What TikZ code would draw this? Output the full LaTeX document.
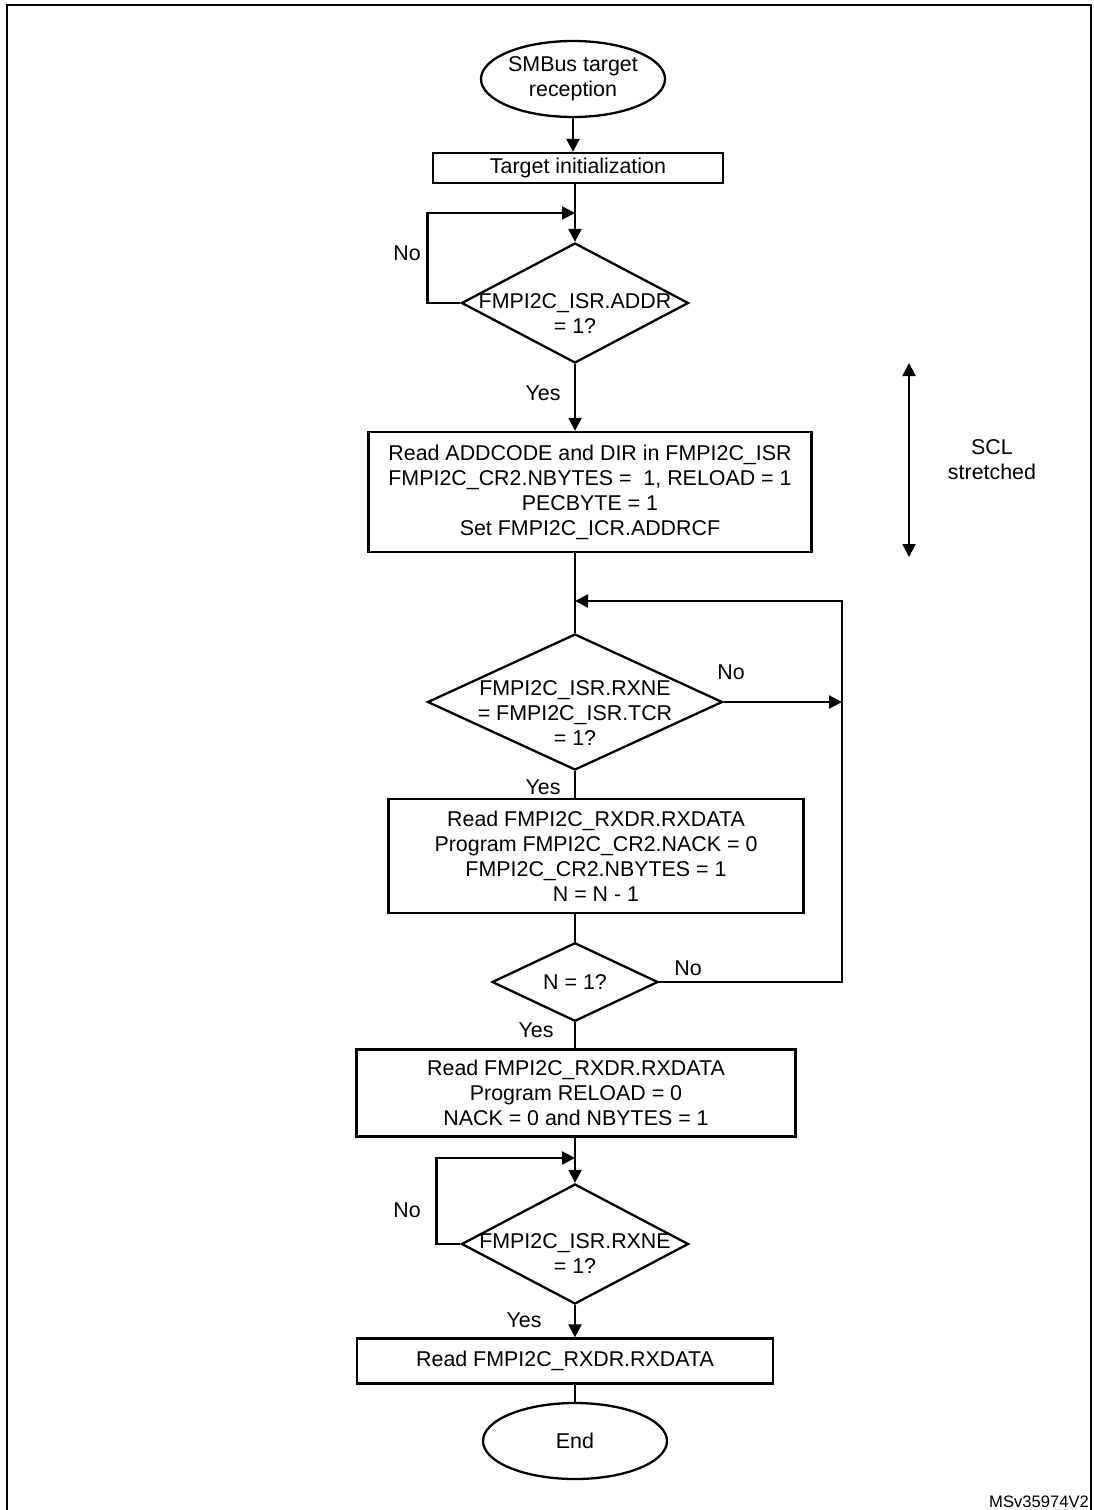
\documentclass[tikz,border=0pt]{standalone}
\usepackage{fontspec}
\setmainfont{Liberation Sans}
\usetikzlibrary{shapes.geometric,arrows.meta}

\begin{document}
\begin{tikzpicture}[x=0.5pt, y=-0.5pt, line width=1.15pt, >={Triangle[length=6.5pt,width=6.5pt]}, font=\fontsize{10.7}{12.5}\selectfont]
\tikzstyle{proc}=[draw, rectangle, align=center, inner sep=1pt]
\tikzstyle{term}=[draw, ellipse, align=center, inner sep=0pt, minimum width=92pt, minimum height=38pt]
\tikzstyle{test}=[draw, diamond, inner sep=0pt]
\tikzstyle{tag}=[inner sep=0pt]
\useasboundingbox (0,0) rectangle (1093,1510);
\draw (7,1510) -- (7,5) -- (1091,5) -- (1091,1510);

\node[term]    (S)    at (573,79)   {SMBus target\\reception};
\node[proc, minimum width=145pt, minimum height=15pt]    (Init) at (578,168)  {Target initialization};
\node[test, minimum width=113.5pt, minimum height=60pt, label={[align=center, yshift=-5.5pt]center:FMPI2C\_ISR.ADDR\\= 1?}]    (Addr) at (575,303)  {};
\node[proc, minimum width=221.5pt, minimum height=60pt]  (RdA)  at (590,492)  {Read ADDCODE and DIR in FMPI2C\_ISR\\FMPI2C\_CR2.NBYTES =\ \ 1, RELOAD = 1\\PECBYTE = 1\\Set FMPI2C\_ICR.ADDRCF};
\node[test, minimum width=147.5pt, minimum height=68pt, label={[align=center, yshift=-5.5pt]center:FMPI2C\_ISR.RXNE\\= FMPI2C\_ISR.TCR\\= 1?}]    (Rxne) at (575,702)  {};
\node[proc, minimum width=207.5pt, minimum height=57pt]  (RdN)  at (596,856)  {Read FMPI2C\_RXDR.RXDATA\\Program FMPI2C\_CR2.NACK = 0\\FMPI2C\_CR2.NBYTES = 1\\N = N - 1};
\node[test, minimum width=83pt, minimum height=35pt]     (Cnt)  at (575,982)  {N = 1?};
\node[proc, minimum width=219.5pt, minimum height=43.5pt] (RdL) at (576,1093) {Read FMPI2C\_RXDR.RXDATA\\Program RELOAD = 0\\NACK = 0 and NBYTES = 1};
\node[test, minimum width=113.5pt, minimum height=60pt, label={[align=center, yshift=-5pt]center:FMPI2C\_ISR.RXNE\\= 1?}]    (Wait) at (575,1244) {};
\node[proc, minimum width=208pt, minimum height=22.5pt]  (RdE)  at (565,1361) {Read FMPI2C\_RXDR.RXDATA};
\node[term]    (E)    at (575,1441) {End};

\coordinate (J1) at (575,213);
\coordinate (J2) at (575,601);
\coordinate (J3) at (575,1158);
\coordinate (Bus) at (842,601);
\coordinate (SclT) at (909,363);
\coordinate (SclB) at (909,557);

\draw[->] (S) -- (Init.north -| S);
\draw[->] (Init.south -| Addr) -- (Addr.north);
\draw[->] (Addr.west) -- ++(-33,0) |- (J1);
\draw[->] (Addr.south) -- (Addr.south |- RdA.north);
\draw (RdA.south -| Rxne) -- (Rxne.north);
\draw[->] (Rxne.east) -- (Rxne.east -| Bus);
\draw (Rxne.south) -- (Rxne.south |- RdN.north);
\draw (RdN.south -| Cnt) -- (Cnt.north);
\draw[->] (Cnt.east) -| (Bus) -- (J2);
\draw (Cnt.south) -- (Cnt.south |- RdL.north);
\draw[->] (RdL.south -| Wait) -- (Wait.north);
\draw[->] (Wait.west) -- ++(-24,0) |- (J3);
\draw[->] (Wait.south) -- (Wait.south |- RdE.north);
\draw (RdE.south -| E) -- (E.north);
\draw[<->] (SclT) -- (SclB);

\node[tag] (No1)  at (407,253)  {No};
\node[tag] (Yes1) at (543,393)  {Yes};
\node[tag] (No2)  at (731,672)  {No};
\node[tag] (Yes2) at (543,787)  {Yes};
\node[tag] (No3)  at (688,968)  {No};
\node[tag] (Yes3) at (536,1030) {Yes};
\node[tag] (No4)  at (407,1210) {No};
\node[tag] (Yes4) at (524,1320) {Yes};
\node[tag, align=center] (Scl) at (992,460) {SCL\\stretched};
\node[anchor=base east, inner sep=0pt, font=\fontsize{8.3}{10}\selectfont] (Ref) at (1090,1507) {MSv35974V2};

\end{tikzpicture}
\end{document}
